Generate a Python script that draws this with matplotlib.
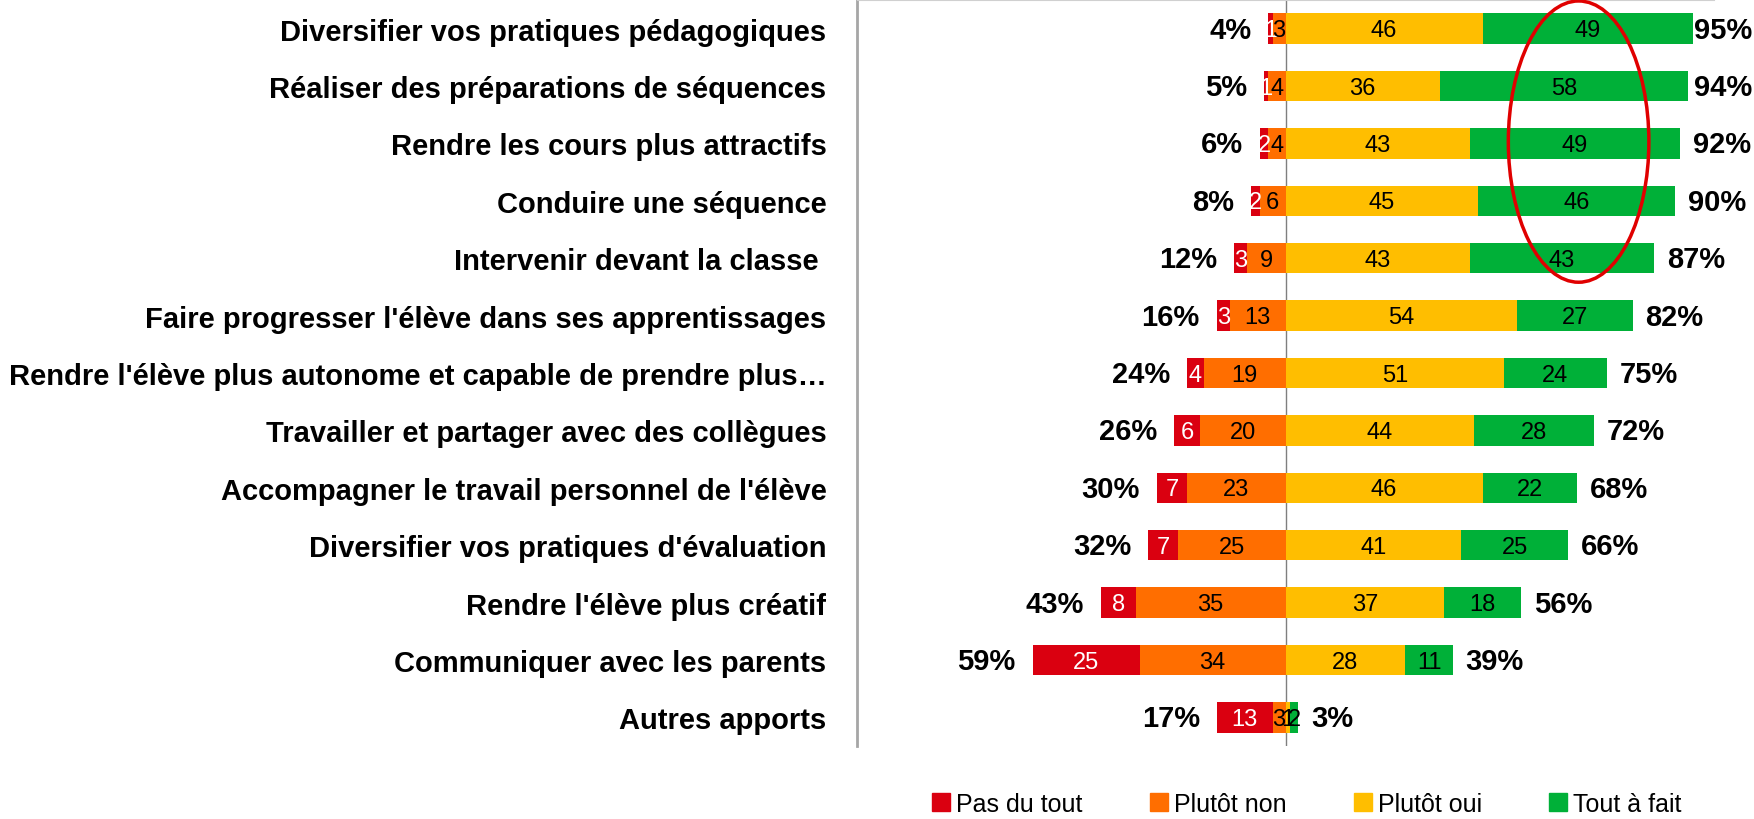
import numpy as np
import matplotlib.pyplot as plt
from matplotlib.patches import Ellipse
from matplotlib.lines import Line2D

plt.rcParams['font.family'] = ['Liberation Sans', 'DejaVu Sans']

categories = [
    "Diversifier vos pratiques pédagogiques",
    "Réaliser des préparations de séquences",
    "Rendre les cours plus attractifs",
    "Conduire une séquence",
    "Intervenir devant la classe ",
    "Faire progresser l'élève dans ses apprentissages",
    "Rendre l'élève plus autonome et capable de prendre plus…",
    "Travailler et partager avec des collègues",
    "Accompagner le travail personnel de l'élève",
    "Diversifier vos pratiques d'évaluation",
    "Rendre l'élève plus créatif",
    "Communiquer avec les parents",
    "Autres apports",
]
pas_du_tout = [1, 1, 2, 2, 3, 3, 4, 6, 7, 7, 8, 25, 13]
plutot_non = [3, 4, 4, 6, 9, 13, 19, 20, 23, 25, 35, 34, 3]
plutot_oui = [46, 36, 43, 45, 43, 54, 51, 44, 46, 41, 37, 28, 1]
tout_a_fait = [49, 58, 49, 46, 43, 27, 24, 28, 22, 25, 18, 11, 2]
neg_labels = ["4%", "5%", "6%", "8%", "12%", "16%", "24%", "26%", "30%", "32%", "43%", "59%", "17%"]
pos_labels = ["95%", "94%", "92%", "90%", "87%", "82%", "75%", "72%", "68%", "66%", "56%", "39%", "3%"]
legend_names = ["Pas du tout", "Plutôt non", "Plutôt oui", "Tout à fait"]

colors = ["#DA0010", "#FF6E00", "#FFBE00", "#00B038"]

pdt = np.array(pas_du_tout)
pn = np.array(plutot_non)
po = np.array(plutot_oui)
taf = np.array(tout_a_fait)
y = np.arange(len(categories))

fig = plt.figure(figsize=(17.54, 8.2), dpi=100)
ax = fig.add_axes([0.4886, 0.089, 0.4886, 0.910])

h = 0.53
segs = [(-(pdt + pn), pdt), (-pn, pn), (np.zeros_like(po), po), (po, taf)]
for i, (left, width) in enumerate(segs):
    ax.barh(y, width, left=left, height=h, color=colors[i], edgecolor="none", zorder=2)
    txtcol = "white" if i == 0 else "black"
    for yi, l, w in zip(y, left, width):
        ax.text(l + w / 2, yi + 0.03, str(w), ha="center", va="center",
                fontsize=17, color=txtcol, zorder=3)

neg = pdt + pn
pos = po + taf
for yi, n, p, nl, pl in zip(y, neg, pos, neg_labels, pos_labels):
    ax.text(-n - 4, yi + 0.02, nl, ha="right", va="center", fontsize=21, fontweight="bold")
    ax.text(min(p + 3, 95.3), yi + 0.02, pl, ha="left", va="center", fontsize=21, fontweight="bold")

ax.axvline(0, color="#7f7f7f", lw=1, zorder=1)

# red circle highlighting the "Tout à fait" column for the top rows
ax.add_patch(Ellipse((68.4, 1.97), 32.8, 4.9, fill=False, edgecolor="#E00000", lw=2.5, zorder=4))

ax.set_xlim(-100, 100)
ax.set_ylim(len(categories) - 0.5, -0.5)
ax.set_xticks([])
ax.set_yticks(y)
ax.set_yticklabels(categories, fontsize=21, fontweight="bold")
ax.tick_params(axis="y", length=0, pad=22)
for s in ["right", "bottom"]:
    ax.spines[s].set_visible(False)
ax.spines["left"].set_color("#a6a6a6")
ax.spines["left"].set_linewidth(2)
ax.spines["top"].set_color("#d0d0d0")

handles = [Line2D([], [], marker="s", ls="none", markersize=13, color=c) for c in colors]
fig.legend(handles, legend_names, loc="center", bbox_to_anchor=(0.744, 0.018), ncol=4,
           frameon=False, fontsize=18, handletextpad=0.1, columnspacing=2.55, handlelength=1)

fig.savefig("out.png", dpi=100)
